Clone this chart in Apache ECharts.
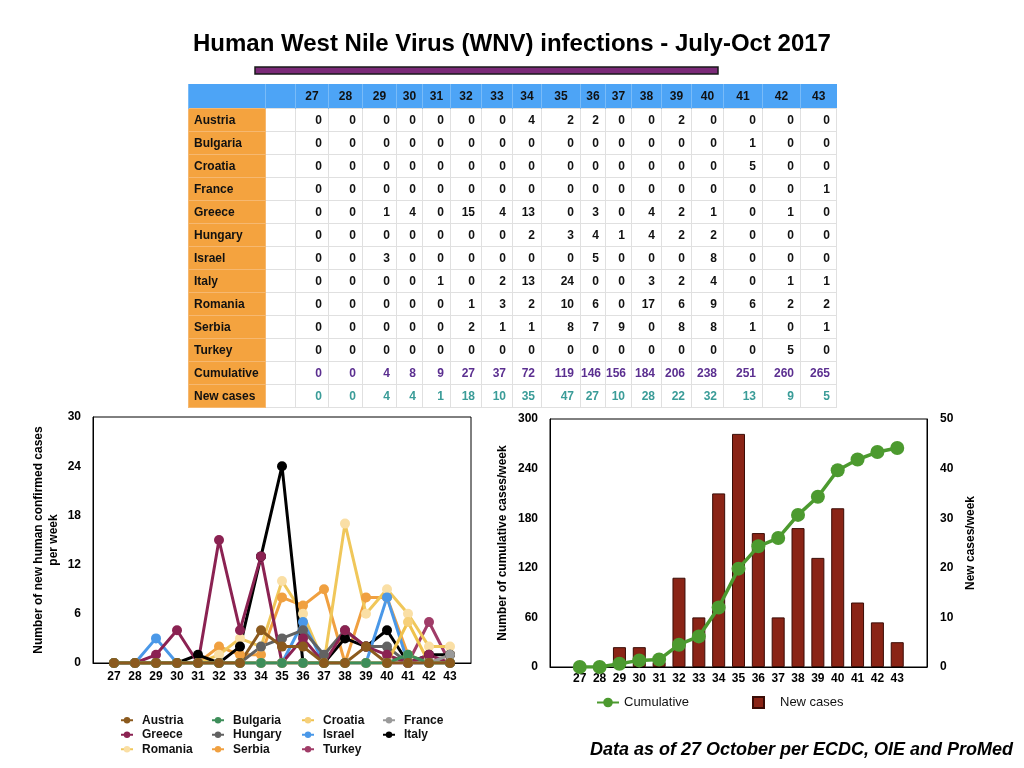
<!DOCTYPE html>
<html><head><meta charset="utf-8">
<script src="https://cdn.jsdelivr.net/npm/echarts@6.0.0/dist/echarts.min.js"></script>
<style>
html,body{margin:0;padding:0;background:#fff;}
#chart{position:absolute;left:0;top:0;width:1024px;height:768px;}
#tbl{position:absolute;left:188px;top:84px;border-collapse:collapse;table-layout:fixed;width:648px;font-family:"Liberation Sans",Arial,sans-serif;font-size:12px;font-weight:bold;color:#111;}
#tbl td,#tbl th{padding:0;overflow:hidden;white-space:nowrap;box-sizing:border-box;}
#tbl thead th{background:#4da4f6;height:24px;text-align:center;border-left:1px solid #79bbf8;font-weight:bold;}
#tbl tbody td{height:23px;border:1px solid #e0e0e0;text-align:right;padding-right:6px;}
#tbl tbody td.name{background:#f4a33f;text-align:left;padding-left:5px;border-color:#f6b870;}
#tbl tbody tr.cum td{color:#5b2f90;}
#tbl tbody tr.newc td{color:#3a9c98;}
#tbl tbody tr.cum td.name,#tbl tbody tr.newc td.name{color:#111;}
</style>
</head><body>
<div id="chart"></div>
<table id="tbl"><colgroup id="cols"></colgroup><thead><tr id="hdr"></tr></thead><tbody id="body"></tbody></table>
<script>
// ---------- data ----------
const weeks = [27,28,29,30,31,32,33,34,35,36,37,38,39,40,41,42,43];
const countries = ['Austria','Bulgaria','Croatia','France','Greece','Hungary','Israel','Italy','Romania','Serbia','Turkey'];
const austria  = [0,0,0,0,0,0,0,4,2,2,0,0,2,0,0,0,0];
const bulgaria = [0,0,0,0,0,0,0,0,0,0,0,0,0,0,1,0,0];
const croatia  = [0,0,0,0,0,0,0,0,0,0,0,0,0,0,5,0,0];
const france   = [0,0,0,0,0,0,0,0,0,0,0,0,0,0,0,0,1];
const greece   = [0,0,1,4,0,15,4,13,0,3,0,4,2,1,0,1,0];
const hungary  = [0,0,0,0,0,0,0,2,3,4,1,4,2,2,0,0,0];
const israel   = [0,0,3,0,0,0,0,0,0,5,0,0,0,8,0,0,0];
const italy    = [0,0,0,0,1,0,2,13,24,0,0,3,2,4,0,1,1];
const romania  = [0,0,0,0,0,1,3,2,10,6,0,17,6,9,6,2,2];
const serbia   = [0,0,0,0,0,2,1,1,8,7,9,0,8,8,1,0,1];
const turkey   = [0,0,0,0,0,0,0,0,0,0,0,0,0,0,0,5,0];
const cumulative = [0,0,4,8,9,27,37,72,119,146,156,184,206,238,251,260,265];
const newCases   = [0,0,4,4,1,18,10,35,47,27,10,28,22,32,13,9,5];
const leftTicks  = [0,6,12,18,24,30];
const cumTicks   = [0,60,120,180,240,300];
const newTicks   = [0,10,20,30,40,50];

const countryData = {Austria:austria,Bulgaria:bulgaria,Croatia:croatia,France:france,Greece:greece,Hungary:hungary,Israel:israel,Italy:italy,Romania:romania,Serbia:serbia,Turkey:turkey};
const lineColors = {Austria:'#8b5a1e',Bulgaria:'#3e8e5a',Croatia:'#efc24d',France:'#9a9a9a',Greece:'#8b2252',Hungary:'#626262',Israel:'#4a98e8',Italy:'#000000',Romania:'#f0c75a',Serbia:'#f0a040',Turkey:'#a03c68'};
const markColors = Object.assign({}, lineColors, {Croatia:'#f6d07a', Romania:'#fadfa5'});

// ---------- table ----------
const colW = [77,30,33,34,34,26,28,31,31,29,39,25,26,30,30,32,39,38,36];
const cg = document.getElementById('cols');
colW.forEach(w=>{const c=document.createElement('col');c.style.width=w+'px';cg.appendChild(c);});
const hdr = document.getElementById('hdr');
['',''].concat(weeks).forEach(w=>{const th=document.createElement('th');th.textContent=w;hdr.appendChild(th);});
const tb = document.getElementById('body');
function addRow(name, vals, cls){
  const tr=document.createElement('tr'); if(cls) tr.className=cls;
  const n=document.createElement('td'); n.className='name'; n.textContent=name; tr.appendChild(n);
  tr.appendChild(document.createElement('td'));
  vals.forEach(v=>{const td=document.createElement('td');td.textContent=v;tr.appendChild(td);});
  tb.appendChild(tr);
}
countries.forEach(c=>addRow(c, countryData[c]));
addRow('Cumulative', cumulative, 'cum');
addRow('New cases', newCases, 'newc');

// ---------- chart ----------
const FONT = '"Liberation Sans", Arial, sans-serif';
const chart = echarts.init(document.getElementById('chart'));
const bold12 = {fontFamily:FONT,fontSize:12,fontWeight:'bold',color:'#000'};
const axLine = {show:true,lineStyle:{color:'#000',width:1}};

const lineSeries = countries.slice().reverse().map(c=>({
  name:c, type:'line', xAxisIndex:0, yAxisIndex:0,
  data: weeks.map((w,i)=>[w, countryData[c][i]]),
  symbol:'circle', symbolSize:10, showSymbol:true,
  lineStyle:{color:lineColors[c], width:3},
  itemStyle:{color:markColors[c]},
  emphasis:{disabled:true}
}));

const legTxt = {fontFamily:FONT,fontSize:12,fontWeight:'bold',color:'#111',lineHeight:14.5,padding:[0,0,0,4]};
function colLegend(left, names){
  return {orient:'vertical', left:left, top:713, padding:0, itemGap:0, itemWidth:12, itemHeight:8,
    data:names, textStyle:legTxt, selectedMode:false};
}

chart.setOption({
  animation:false,
  backgroundColor:'#fff',
  title:[
    {text:'Human West Nile Virus (WNV) infections - July-Oct 2017', left:'center', top:27,
     textStyle:{fontFamily:FONT,fontSize:24,fontWeight:'bold',color:'#000'}},
    {text:'Data as of 27 October per ECDC, OIE and ProMed', right:6, top:736,
     textStyle:{fontFamily:FONT,fontSize:18,fontWeight:'bold',fontStyle:'italic',color:'#000'}}
  ],
  graphic:[{type:'rect', shape:{x:255,y:67,width:463,height:7},
    style:{fill:'#7b2a78',stroke:'#1a1a1a',lineWidth:1.5}}],
  grid:[
    {left:93, top:417, width:378, height:246, show:true, borderColor:'#000', borderWidth:1, backgroundColor:'transparent'},
    {left:550, top:419, width:377, height:248, show:true, borderColor:'#000', borderWidth:1, backgroundColor:'transparent'}
  ],
  xAxis:[
    {type:'value', gridIndex:0, min:26, max:44, axisLine:axLine, axisTick:{show:false}, splitLine:{show:false},
     axisLabel:Object.assign({customValues:weeks, margin:8}, bold12)},
    {type:'value', gridIndex:1, min:25.5, max:44.5, axisLine:axLine, axisTick:{show:false}, splitLine:{show:false},
     axisLabel:Object.assign({customValues:weeks, margin:6}, bold12)}
  ],
  yAxis:[
    {type:'value', gridIndex:0, min:0, max:30, interval:6, axisLine:axLine, axisTick:{show:false}, splitLine:{show:false},
     axisLabel:Object.assign({customValues:leftTicks, margin:12}, bold12),
     name:'Number of new human confirmed cases\nper week', nameLocation:'middle', nameGap:32,
     nameTextStyle:Object.assign({lineHeight:15}, bold12)},
    {type:'value', gridIndex:1, min:0, max:300, interval:60, axisLine:axLine, axisTick:{show:false}, splitLine:{show:false},
     axisLabel:Object.assign({customValues:cumTicks, margin:12}, bold12),
     name:'Number of cumulative cases/week', nameLocation:'middle', nameGap:41,
     nameTextStyle:bold12},
    {type:'value', gridIndex:1, position:'right', min:0, max:50, interval:10, axisLine:axLine, axisTick:{show:false}, splitLine:{show:false},
     axisLabel:Object.assign({customValues:newTicks, margin:13}, bold12),
     name:'New cases/week', nameLocation:'middle', nameGap:38, nameRotate:90,
     nameTextStyle:bold12}
  ],
  legend:[
    colLegend(120, ['Austria','Greece','Romania']),
    colLegend(211, ['Bulgaria','Hungary','Serbia']),
    colLegend(301, ['Croatia','Israel','Turkey']),
    colLegend(382, ['France','Italy']),
    {left:596, top:696, padding:0, itemWidth:22, itemHeight:12, data:['Cumulative'], selectedMode:false,
     textStyle:{fontFamily:FONT,fontSize:13,color:'#111'}},
    {left:752, top:696, padding:0, itemWidth:11, itemHeight:11, data:[{name:'New cases', icon:'rect'}], selectedMode:false,
     textStyle:{fontFamily:FONT,fontSize:13,color:'#111',padding:[0,0,0,11]}}
  ],
  series: lineSeries.concat([
    {name:'New cases', type:'bar', xAxisIndex:1, yAxisIndex:2,
     data:weeks.map((w,i)=>[w,newCases[i]]), barWidth:13,
     itemStyle:{color:'#8a2416', borderColor:'#3a0c06', borderWidth:1}, emphasis:{disabled:true}},
    {name:'Cumulative', type:'line', xAxisIndex:1, yAxisIndex:1, z:5,
     data:weeks.map((w,i)=>[w,cumulative[i]]), symbol:'circle', symbolSize:14,
     lineStyle:{color:'#4c9a2f', width:3.5}, itemStyle:{color:'#4c9a2f'}, emphasis:{disabled:true}}
  ])
});
</script>
</body></html>
